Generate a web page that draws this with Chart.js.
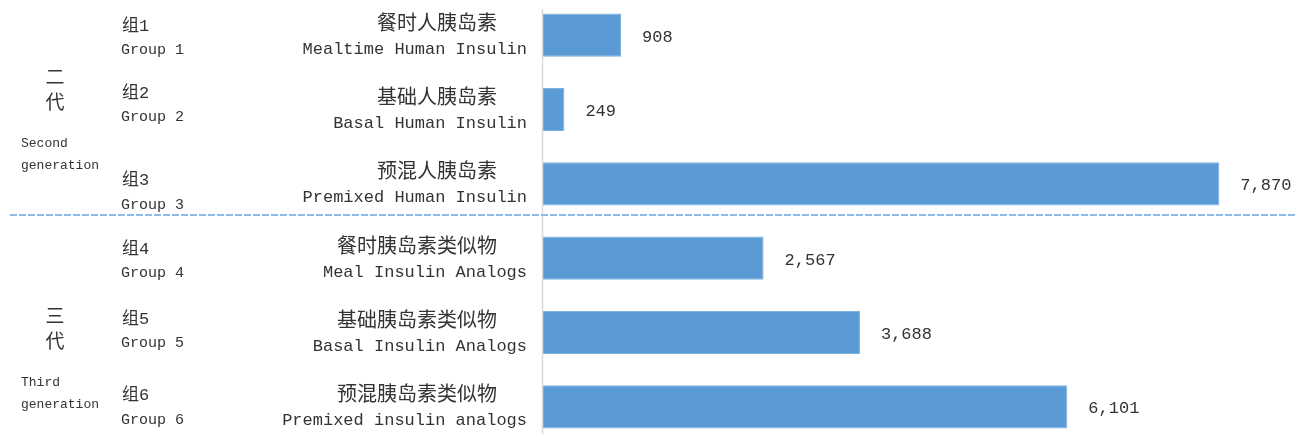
<!DOCTYPE html>
<html>
<head>
<meta charset="utf-8">
<script src="https://cdn.jsdelivr.net/npm/chart.js@4.4.1/dist/chart.umd.min.js"></script>
<style>
  html, body { margin: 0; padding: 0; background: #fff; overflow: hidden; }
  #wrap { position: absolute; left: 0; top: -2px; width: 1295px; height: 446px; }
</style>
</head>
<body>
<div id="wrap"><canvas id="insulinChart"></canvas></div>
<script>
// chart data
const productsZh = ["餐时人胰岛素", "基础人胰岛素", "预混人胰岛素", "餐时胰岛素类似物", "基础胰岛素类似物", "预混胰岛素类似物"];
const productsEn = ["Mealtime Human Insulin", "Basal Human Insulin", "Premixed Human Insulin", "Meal Insulin Analogs", "Basal Insulin Analogs", "Premixed insulin analogs"];
const groupsZh = ["组1", "组2", "组3", "组4", "组5", "组6"];
const groupsEn = ["Group 1", "Group 2", "Group 3", "Group 4", "Group 5", "Group 6"];
const counts = [908, 249, 7870, 2567, 3688, 6101];
const generationsZh = [["二", "代"], ["三", "代"]];
const generationsEn = [["Second", "generation"], ["Third", "generation"]];
const generationRanges = [[0, 2], [3, 5]];

// small hand tuning of where the text boxes sit
const groupShift = [-9, -16, -3, -9, -13, -11];
const genShift = [-33, -17];

const textColor = "#333333";
const monoFont = '"Liberation Mono", "Noto Sans CJK SC", monospace';
const cjkFont = '"Noto Sans CJK SC", sans-serif';

const labelPlugin = {
    id: "labelPlugin",
    afterDatasetsDraw(chart) {
        const ctx = chart.ctx;
        const yScale = chart.scales.y;
        const area = chart.chartArea;
        const bars = chart.getDatasetMeta(0).data;

        ctx.save();
        ctx.fillStyle = textColor;
        ctx.textBaseline = "middle";

        // axis line
        ctx.strokeStyle = "#d9d9d9";
        ctx.lineWidth = 1.5;
        ctx.beginPath();
        ctx.moveTo(area.left - 0.5, area.top + 11);
        ctx.lineTo(area.left - 0.5, chart.height);
        ctx.stroke();

        productsZh.forEach(function (name, i) {
            const py = yScale.getPixelForValue(i);

            ctx.textAlign = "right";
            ctx.font = "20px " + cjkFont;
            ctx.fillText(name, area.left - 46, py - 13);
            ctx.font = "17px " + monoFont;
            ctx.fillText(productsEn[i], area.left - 16, py + 14);

            ctx.textAlign = "left";
            ctx.font = "17px " + monoFont;
            ctx.fillText(groupsZh[i], 122, py + groupShift[i]);
            ctx.font = "15px " + monoFont;
            ctx.fillText(groupsEn[i], 121, py + groupShift[i] + 24);

            // value label
            const bar = bars[i];
            ctx.font = "17px " + monoFont;
            ctx.fillText(counts[i].toLocaleString("en-US"), bar.x + 21, bar.y + 2);
        });

        generationRanges.forEach(function (range, g) {
            const mid = (yScale.getPixelForValue(range[0]) + yScale.getPixelForValue(range[1])) / 2;
            const base = mid + genShift[g];
            ctx.textAlign = "center";
            ctx.font = "19px " + cjkFont;
            ctx.fillText(generationsZh[g][0], 55, base);
            ctx.fillText(generationsZh[g][1], 55, base + 25);
            ctx.textAlign = "left";
            ctx.font = "13px " + monoFont;
            ctx.fillText(generationsEn[g][0], 21, base + 67);
            ctx.fillText(generationsEn[g][1], 21, base + 89);
        });

        // dashed divider between the two generations
        const divY = Math.round((yScale.getPixelForValue(2) + yScale.getPixelForValue(3)) / 2 - 6);
        ctx.strokeStyle = "#8fbce6";
        ctx.lineWidth = 2;
        ctx.setLineDash([7, 2]);
        ctx.beginPath();
        ctx.moveTo(10, divY);
        ctx.lineTo(chart.width, divY);
        ctx.stroke();

        ctx.restore();
    }
};

let ctx = document.getElementById("insulinChart").getContext("2d");
let insulinChart = new Chart(ctx, {
    type: "bar",
    data: {
        labels: productsEn,
        datasets: [{
            data: counts,
            backgroundColor: "#5b9bd5",
            borderColor: "#7fb1df",
            borderWidth: 1,
            barPercentage: 0.58,
            categoryPercentage: 1
        }]
    },
    options: {
        indexAxis: "y",
        responsive: true,
        maintainAspectRatio: false,
        animation: false,
        layout: { padding: 0 },
        plugins: {
            legend: { display: false },
            tooltip: { enabled: false }
        },
        scales: {
            x: {
                display: false,
                min: 0,
                max: 8750
            },
            y: {
                grid: { display: false },
                border: { display: false },
                ticks: { display: false },
                afterFit: function (scale) { scale.width = 543; }
            }
        }
    },
    plugins: [labelPlugin]
});
</script>
</body>
</html>
